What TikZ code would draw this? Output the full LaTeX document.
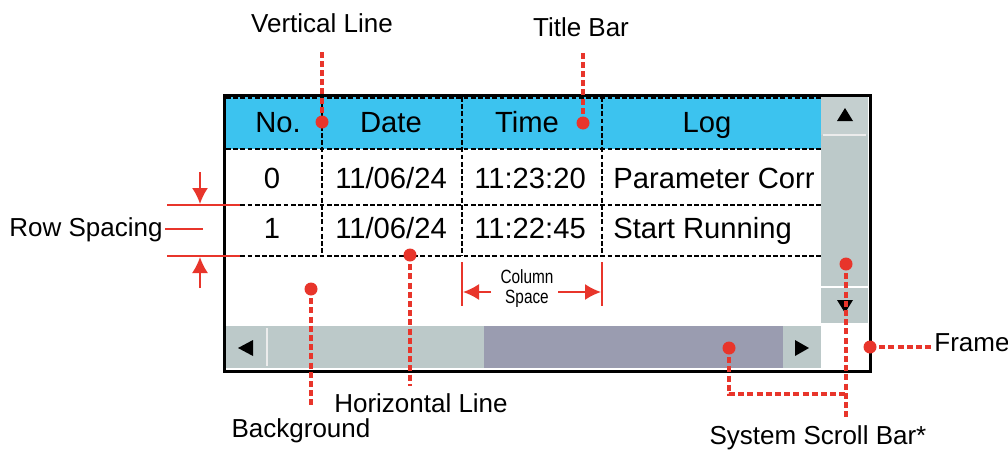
\documentclass[tikz,border=0pt]{standalone}
\usepackage{fontspec}
\setmainfont{Liberation Sans}
\usepackage{graphicx}
\usetikzlibrary{arrows.meta}
\definecolor{callred}{HTML}{E8352B}
\definecolor{titleblue}{HTML}{3CC3EF}
\definecolor{bargray}{HTML}{BCC9C9}
\definecolor{btngray}{HTML}{C4CFCF}
\definecolor{thumbgray}{HTML}{9A9CB0}
\begin{document}
\begin{tikzpicture}[x=0.5pt,y=-0.5pt,
  callout/.style={draw=callred,line width=1.7pt,dash pattern=on 3pt off 1.6pt},
  pin/.style={circle,fill=callred,inner sep=0pt,minimum size=6.5pt},
  lbl/.style={font=\fontsize{13}{15}\selectfont,inner sep=0pt,text height=9.5pt,text depth=2.7pt},
  cell/.style={font=\fontsize{14.6}{16}\selectfont,inner sep=0pt,text height=10.5pt,text depth=3pt},
  gridline/.style={line width=0.6pt,dash pattern=on 2.4pt off 1.2pt},
  dimline/.style={draw=callred,line width=0.9pt},
  glyph/.style={fill=black},
  >={Latex[length=8pt,width=8pt]}]
\useasboundingbox (0,0) rectangle (1008,450);
% table body and title bar
\fill[white] (224,95) rectangle (870,371);
\fill[titleblue] (226,97) rectangle (821,149);
\draw[gridline] (226,98) -- (821,98);
\draw[gridline] (226,149) -- (821,149);
\draw[gridline] (226,205) -- (821,205);
\draw[gridline] (226,256) -- (821,256);
\draw[gridline] (322,97) -- (322,256);
\draw[gridline] (462,97) -- (462,256);
\draw[gridline] (602,97) -- (602,256);
% header
\node[cell] (hno) at (278,124.5) {No.};
\node[cell] (hdate) at (391,124.5) {Date};
\node[cell] (htime) at (527,124.5) {Time};
\node[cell] (hlog) at (707,124.5) {Log};
% rows
\node[cell] (rowAno) at (272,180.5) {0};
\node[cell] (rowAdate) at (391,180.5) {11/06/24};
\node[cell] (rowAtime) at (530,180.5) {11:23:20};
\node[cell,anchor=west] (rowAlog) at (613,180.5) {Parameter Corr};
\node[cell] (rowBno) at (272,230.5) {1};
\node[cell] (rowBdate) at (391,230.5) {11/06/24};
\node[cell] (rowBtime) at (530,230.5) {11:22:45};
\node[cell,anchor=west] (rowBlog) at (613,230.5) {Start Running};
% system scroll bars
\fill[bargray] (821,97) rectangle (868,286);
\fill[btngray] (821,97) rectangle (868,135);
\draw[white!85!gray,line width=0.6pt] (823,135) -- (866,135);
\fill[bargray] (821,288) rectangle (868,323);
\fill[bargray] (226,326) rectangle (484,368);
\draw[white!85!gray,line width=0.6pt] (267,328) -- (267,366);
\fill[thumbgray] (484,326) rectangle (783,368);
\fill[bargray] (783,326) rectangle (821,368);
\fill[glyph] (845,108) -- (853,121) -- (837,121) -- cycle;
\fill[glyph] (845,313) -- (853,300) -- (837,300) -- cycle;
\fill[glyph] (238,348) -- (253,340) -- (253,356) -- cycle;
\fill[glyph] (809,348) -- (795,340) -- (795,356) -- cycle;
% frame
\draw[line width=1.5pt] (224,95) rectangle (870,371);
% callouts
\node[lbl] (vline) at (322,26) {Vertical Line};
\node[pin] (vlinepin) at (322,122) {};
\coordinate (vlinetop) at (322,50);
\draw[callout] (vlinepin.center) -- (vlinetop);
\node[lbl] (tbar) at (581,30) {Title Bar};
\node[pin] (tbarpin) at (583,123) {};
\coordinate (tbartop) at (583,50);
\draw[callout] (tbarpin.center) -- (tbartop);
\node[lbl] (hline) at (421,406) {Horizontal Line};
\node[pin] (hlinepin) at (410,255) {};
\coordinate (hlineend) at (410,386);
\draw[callout] (hlinepin.center) -- (hlineend);
\node[lbl] (bgnd) at (301,431) {Background};
\node[pin] (bgndpin) at (311,289) {};
\coordinate (bgndend) at (311,407);
\draw[callout] (bgndpin.center) -- (bgndend);
\node[lbl] (sbar) at (818,438) {System Scroll Bar*};
\node[pin] (sbarpinv) at (846,264) {};
\node[pin] (sbarpinh) at (729,348) {};
\coordinate (sbarend) at (846,420);
\coordinate (sbarjoin) at (846,394);
\draw[callout] (sbarpinv.center) -- (sbarend);
\draw[callout] (sbarpinh.center) |- (sbarjoin);
\node[lbl,anchor=west] (frm) at (934,345) {Frame};
\node[pin] (frmpin) at (870,347) {};
\draw[callout] (frmpin.center) -- (frm.west |- frmpin);
% row spacing
\draw[dimline] (167,205) -- (240,205);
\draw[dimline] (167,256) -- (240,256);
\coordinate (rsA) at (200,172);
\coordinate (rsB) at (200,204);
\coordinate (rsC) at (200,288);
\coordinate (rsD) at (200,257);
\draw[dimline,->] (rsA) -- (rsB);
\draw[dimline,->] (rsC) -- (rsD);
\node[lbl,anchor=east] (rowsp) at (163,229.5) {Row Spacing};
\coordinate (rowspend) at (203,229);
\draw[dimline] ([xshift=1pt]rowsp.east |- rowspend) -- (rowspend);
% column space
\draw[dimline] (462,262) -- (462,306);
\draw[dimline] (602,262) -- (602,306);
\node[font=\fontsize{9.6}{11}\selectfont,align=center,inner sep=0pt] (colsp) at (527,289)
  {\scalebox{0.8}[1]{Column}\\[-1pt]\scalebox{0.8}[1]{Space}};
\coordinate (csL) at (463,292);
\coordinate (csR) at (601,292);
\draw[dimline,->] (491,292) -- (csL);
\draw[dimline,->] (558,292) -- (csR);
\end{tikzpicture}
\end{document}
